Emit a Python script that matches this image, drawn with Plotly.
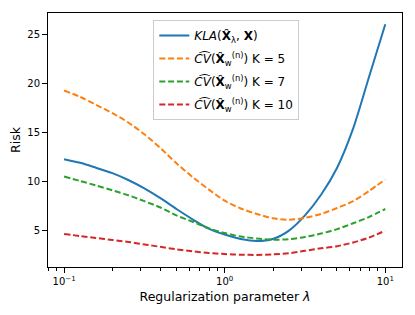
import plotly.graph_objects as go

lam = [0.1, 0.126, 0.158, 0.2, 0.251, 0.316, 0.398, 0.501, 0.631, 0.794, 1.0,
       1.259, 1.585, 1.995, 2.512, 3.162, 3.981, 5.012, 6.31, 7.943, 10.0]
kla = [12.27, 11.9, 11.4, 10.85, 10.15, 9.3, 8.3, 7.2, 6.15, 5.2, 4.6,
       4.15, 3.95, 4.15, 5.0, 6.55, 8.65, 11.4, 15.4, 20.7, 26.0]
cv5 = [19.26, 18.6, 17.8, 16.95, 16.0, 14.8, 13.4, 11.85, 10.45, 9.2, 8.05,
       7.25, 6.7, 6.25, 6.1, 6.3, 6.7, 7.3, 8.0, 9.05, 10.2]
cv7 = [10.5, 10.05, 9.6, 9.1, 8.6, 8.0, 7.35, 6.55, 5.9, 5.25, 4.75,
       4.4, 4.2, 4.08, 4.12, 4.35, 4.7, 5.15, 5.75, 6.4, 7.2]
cv10 = [4.66, 4.45, 4.25, 4.05, 3.85, 3.6, 3.35, 3.1, 2.9, 2.72, 2.62,
        2.55, 2.53, 2.58, 2.7, 2.95, 3.2, 3.42, 3.8, 4.3, 5.0]

names = [
    "<i>KLA</i>(<b>X̂</b><sub>λ</sub>, <b>X</b>)",
    "<i>C͡V</i>(<b>X̂</b><sub>w</sub><sup>(n)</sup>) K = 5",
    "<i>C͡V</i>(<b>X̂</b><sub>w</sub><sup>(n)</sup>) K = 7",
    "<i>C͡V</i>(<b>X̂</b><sub>w</sub><sup>(n)</sup>) K = 10",
]
series = [kla, cv5, cv7, cv10]
colors = ["#1f77b4", "#ff7f0e", "#2ca02c", "#d62728"]
dashes = ["solid", "6px,2.8px", "6px,2.8px", "6px,2.8px"]

xticks = [0.1, 1, 10]
xticktext = ["10<sup>−1</sup>", "10<sup>0</sup>", "10<sup>1</sup>"]
yticks = [5, 10, 15, 20, 25]

fig = go.Figure()
for i, (nm, ys) in enumerate(zip(names, series)):
    fig.add_trace(go.Scatter(
        x=lam, y=ys, mode="lines", name=nm, legendgroup=str(i),
        line=dict(color=colors[i], width=2, dash=dashes[i], shape="spline", smoothing=0.8),
    ))

axis_common = dict(
    showline=True, linecolor="black", linewidth=1, mirror=True,
    ticks="outside", ticklen=5, tickwidth=1, tickcolor="black",
    showgrid=False, zeroline=False, automargin=False,
    tickfont=dict(family="DejaVu Sans", size=10, color="black"),
)

fig.update_layout(
    width=407, height=307,
    margin=dict(l=40, r=13, t=5, b=48),
    paper_bgcolor="white", plot_bgcolor="white",
    font=dict(family="DejaVu Sans", size=12, color="black"),
    xaxis=dict(
        type="log", range=[-1.1, 1.104],
        tickvals=xticks, ticktext=xticktext,
        title=dict(text="Regularization parameter <i>λ</i>", font=dict(size=12.5), standoff=6),
        minor=dict(ticks="outside", ticklen=3, tickcolor="black", dtick="D1", showgrid=False),
        **axis_common,
    ),
    yaxis=dict(
        range=[1.3, 27.14], tickvals=yticks,
        title=dict(text="Risk", font=dict(size=12.5), standoff=8),
        **axis_common,
    ),
    legend=dict(
        x=0.2975, y=0.972, xanchor="left", yanchor="top",
        bgcolor="rgba(255,255,255,0.8)", bordercolor="#cccccc", borderwidth=1,
        font=dict(family="DejaVu Sans", size=12), tracegroupgap=4,
    ),
    showlegend=True,
)

fig.write_html("out.html")
